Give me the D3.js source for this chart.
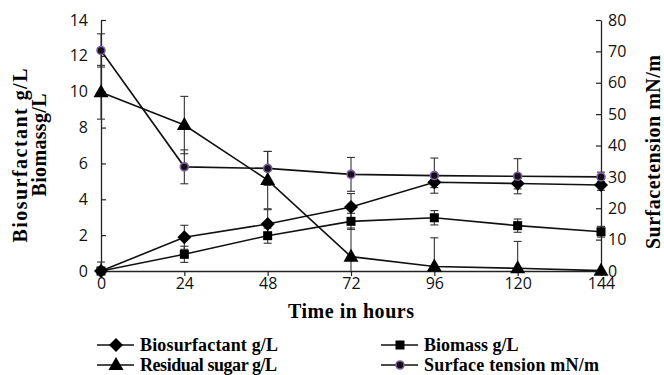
<!DOCTYPE html>
<html><head><meta charset="utf-8">
<script src="https://cdn.jsdelivr.net/npm/d3@7"></script>
<style>body{margin:0;background:#fff}svg{display:block}</style>
</head><body>
<svg id="c" width="664" height="375"></svg>
<script>
const hours = [0, 24, 48, 72, 96, 120, 144];
const biosurfactant = [0, 1.88, 2.62, 3.57, 4.95, 4.88, 4.8];
const biosurfactantErr = [0.1, 0.67, 0.8, 0.75, 0.3, 0.3, 0.3];
const biomass = [0, 0.93, 1.97, 2.77, 2.97, 2.53, 2.19];
const biomassErr = [0.5, 0.45, 0.42, 0.45, 0.4, 0.37, 0.3];
const residualSugar = [9.97, 8.14, 5.07, 0.8, 0.25, 0.15, 0.02];
const residualSugarErr = [1.5, 1.6, 1.6, 1.6, 1.6, 1.5, 0];
const surfaceTension = [70.3, 33.2, 32.7, 30.8, 30.4, 30.2, 30.0];
const surfaceTensionErr = [5.3, 5.4, 5.4, 5.4, 5.6, 5.6, 1.5];
const leftTicks = [0, 2, 4, 6, 8, 10, 12, 14];
const rightTicks = [0, 10, 20, 30, 40, 50, 60, 70, 80];

const svg = d3.select("#c");
const x = d3.scaleLinear().domain([0, 144]).range([101, 601]);
const yL = d3.scaleLinear().domain([0, 14]).range([271, 20]);
const yR = d3.scaleLinear().domain([0, 80]).range([271, 20]);

const tickFont = "'Open Sans', sans-serif";
function styleAxis(g) {
  g.selectAll("path.domain").attr("stroke", "#222").attr("stroke-width", 1.3);
  g.selectAll(".tick line").attr("stroke", "#222").attr("stroke-width", 1.2);
  g.selectAll(".tick text").attr("font-family", tickFont).attr("font-size", 16).attr("fill", "#111");
}
svg.append("g").attr("transform", "translate(0,271)")
  .call(d3.axisBottom(x).tickValues(hours).tickSizeInner(5).tickSizeOuter(0).tickPadding(2))
  .call(styleAxis);
svg.append("g").attr("transform", "translate(101,0)")
  .call(d3.axisLeft(yL).tickValues(leftTicks).tickSizeInner(-5).tickSizeOuter(0).tickPadding(13))
  .call(styleAxis);
svg.append("g").attr("transform", "translate(601,0)")
  .call(d3.axisRight(yR).tickValues(rightTicks).tickSizeInner(-5).tickSizeOuter(0).tickPadding(7))
  .call(styleAxis);

const series = [
  {vals: biosurfactant, err: biosurfactantErr, y: yL, shape: "diamond"},
  {vals: biomass, err: biomassErr, y: yL, shape: "square"},
  {vals: residualSugar, err: residualSugarErr, y: yL, shape: "triangle"},
  {vals: surfaceTension, err: surfaceTensionErr, y: yR, shape: "circle"}
];

function drawMarker(g, shape, cx, cy) {
  if (shape === "diamond") {
    g.append("path").attr("d", `M${cx},${cy-7}L${cx+7},${cy}L${cx},${cy+7}L${cx-7},${cy}Z`).attr("fill", "#000");
  } else if (shape === "square") {
    g.append("rect").attr("x", cx-4.5).attr("y", cy-4.5).attr("width", 9).attr("height", 9).attr("fill", "#000");
  } else if (shape === "triangle") {
    g.append("path").attr("d", `M${cx},${cy-8}L${cx+7.5},${cy+5}L${cx-7.5},${cy+5}Z`).attr("fill", "#000");
  } else {
    g.append("circle").attr("cx", cx).attr("cy", cy).attr("r", 4).attr("fill", "#111")
      .attr("stroke", "#7a5ca8").attr("stroke-width", 1.6);
  }
}

const plot = svg.append("g");
series.forEach(s => {
  const dom = s.y.domain();
  s.vals.forEach((v, i) => {
    if (!s.err[i]) return;
    const hi = Math.min(v + s.err[i], dom[1]);
    const lo = Math.max(v - s.err[i], dom[0]);
    const cx = x(hours[i]);
    plot.append("line").attr("x1", cx).attr("x2", cx).attr("y1", s.y(hi)).attr("y2", s.y(lo))
      .attr("stroke", "#333").attr("stroke-width", 1.1);
    plot.append("line").attr("x1", cx-4).attr("x2", cx+4).attr("y1", s.y(hi)).attr("y2", s.y(hi))
      .attr("stroke", "#333").attr("stroke-width", 1.1);
    if (v - s.err[i] >= dom[0])
      plot.append("line").attr("x1", cx-4).attr("x2", cx+4).attr("y1", s.y(lo)).attr("y2", s.y(lo))
        .attr("stroke", "#333").attr("stroke-width", 1.1);
  });
});
series.forEach(s => {
  const line = d3.line().x((d, i) => x(hours[i])).y(d => s.y(d));
  plot.append("path").attr("d", line(s.vals)).attr("fill", "none").attr("stroke", "#111").attr("stroke-width", 1.6);
});
series.forEach(s => {
  s.vals.forEach((v, i) => drawMarker(plot, s.shape, x(hours[i]), s.y(v)));
});

const titleFont = "'Liberation Serif', 'Times New Roman', serif";
svg.append("text").attr("x", 351).attr("y", 318).attr("text-anchor", "middle")
  .attr("font-family", titleFont).attr("font-weight", "bold").attr("font-size", 20)
  .attr("textLength", 126).text("Time in hours");
svg.append("text").attr("transform", "translate(27,155.5) rotate(-90)").attr("text-anchor", "middle")
  .attr("font-family", titleFont).attr("font-weight", "bold").attr("font-size", 20)
  .attr("textLength", 174).text("Biosurfactant g/L");
svg.append("text").attr("transform", "translate(46,145) rotate(-90)").attr("text-anchor", "middle")
  .attr("font-family", titleFont).attr("font-weight", "bold").attr("font-size", 20)
  .attr("textLength", 103).text("Biomassg/L");
svg.append("text").attr("transform", "translate(660,152) rotate(-90)").attr("text-anchor", "middle")
  .attr("font-family", titleFont).attr("font-weight", "bold").attr("font-size", 20)
  .attr("textLength", 194).text("Surfacetension mN/m");

const legendItems = [
  {label: "Biosurfactant g/L", shape: "diamond", lx: 97, ly: 345, w: 138},
  {label: "Biomass g/L", shape: "square", lx: 381, ly: 345, w: 0},
  {label: "Residual sugar g/L", shape: "triangle", lx: 97, ly: 365, w: 137},
  {label: "Surface tension mN/m", shape: "circle", lx: 381, ly: 365, w: 175}
];
const lg = svg.append("g");
legendItems.forEach(it => {
  lg.append("line").attr("x1", it.lx).attr("x2", it.lx + 37).attr("y1", it.ly).attr("y2", it.ly)
    .attr("stroke", "#111").attr("stroke-width", 1.6);
  drawMarker(lg, it.shape, it.lx + 19, it.ly);
  const t = lg.append("text").attr("x", it.lx + 43).attr("y", it.ly + 6)
    .attr("font-family", titleFont).attr("font-weight", "bold").attr("font-size", 18).text(it.label);
  if (it.w) t.attr("textLength", it.w);
});
</script>
</body></html>
